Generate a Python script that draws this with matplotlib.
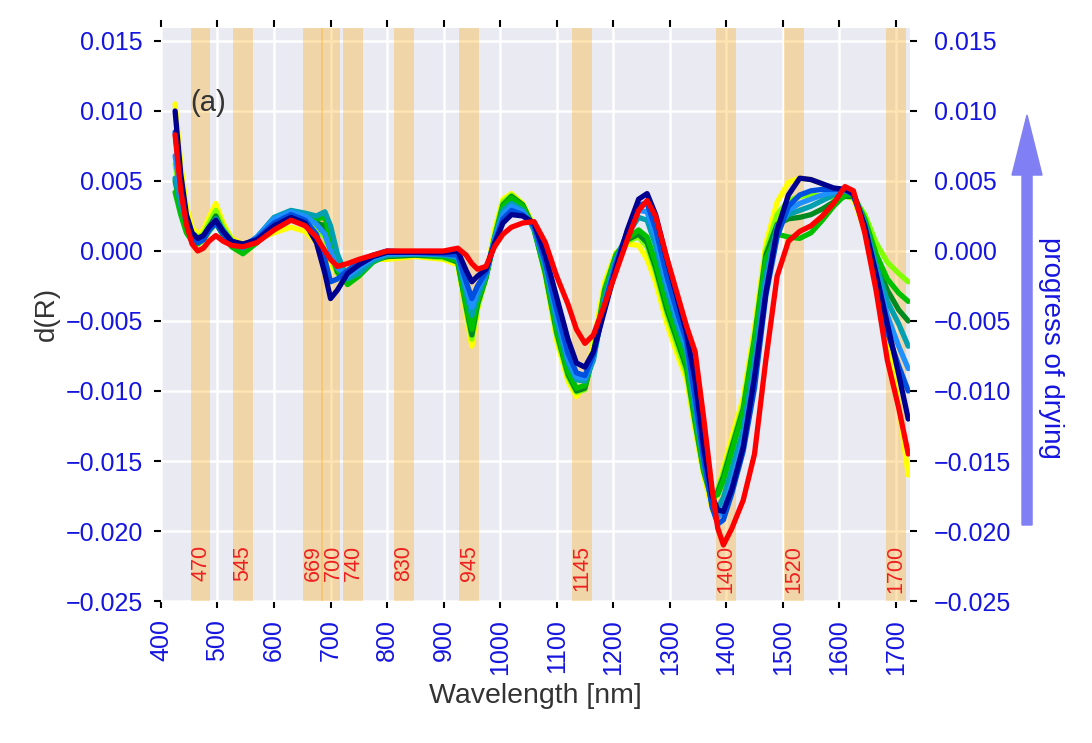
import matplotlib
matplotlib.use("Agg")
import matplotlib.pyplot as plt
import seaborn as sns
from matplotlib.patches import FancyArrow
from matplotlib.ticker import FuncFormatter

# wavelength grid [nm]
wl = [425, 435, 445, 455, 465, 475, 485, 497, 510, 525, 545, 570, 600, 630, 655,
      675, 690, 700, 712, 730, 750, 775, 800, 850, 900, 925, 940, 950, 960, 975,
      990, 1005, 1020, 1040, 1060, 1080, 1100, 1120, 1135, 1150, 1165, 1185, 1205,
      1225, 1245, 1260, 1275, 1295, 1315, 1330, 1345, 1360, 1375, 1385, 1395, 1410,
      1430, 1450, 1470, 1490, 1510, 1530, 1550, 1570, 1590, 1610, 1625, 1645, 1665,
      1685, 1705, 1722]

# d(R) spectra, in units of 1e-3 (wet -> dry)
s_yellow = [10.5, 6.2, 3.2, 1.7, 1.2, 1.5, 2.4, 3.4, 2.0, 0.9, 0.5, 0.8, 1.3, 1.7, 1.4,
            0.6, -0.2, -0.9, -1.6, -1.4, -0.9, -0.6, -0.6, -0.4, -0.6, -1.0, -4.5, -6.8, -4.2, -1.8,
            1.5, 3.7, 4.1, 3.4, 1.8, -1.8, -6.4, -9.3, -10.4, -9.6, -6.5, -2.2, -0.1,
            0.5, 0.4, -0.6, -2.2, -5.2, -7.6, -9.2, -12.8, -16.0, -18.5, -17.2, -15.5, -13.3,
            -10.5, -5.5, 0.5, 3.5, 4.9, 5.2, 5.1, 4.8, 4.3, 4.0, 3.7, 1.5, -2.5,
            -6.5, -11.0, -16.0]
s_lime = [6.2, 3.8, 2.2, 1.3, 1.0, 1.2, 2.0, 2.9, 1.7, 0.8, 0.2, 0.7, 1.8, 2.3, 2.0,
          1.5, 1.0, -0.3, -1.6, -1.8, -1.2, -0.6, -0.4, -0.3, -0.5, -0.8, -4.2, -6.3, -4.0, -1.9,
          1.1, 3.5, 4.0, 3.3, 1.6, -1.7, -6.0, -9.0, -10.1, -9.9, -7.2, -2.6, -0.2,
          0.7, 1.0, 0.3, -1.5, -4.5, -7.0, -8.8, -12.4, -15.8, -17.9, -17.0, -15.8, -13.8,
          -11.0, -6.0, 0.0, 2.6, 3.6, 3.9, 4.0, 3.9, 3.8, 3.9, 3.8, 2.6, 0.6,
          -0.8, -1.6, -2.2]
s_dgreen = [5.0, 3.1, 1.7, 0.9, 0.7, 1.0, 1.7, 2.5, 1.4, 0.5, 0.0, 0.6, 2.0, 2.6, 2.4,
            2.0, 1.8, 0.3, -1.5, -2.2, -1.6, -0.7, -0.4, -0.3, -0.4, -0.8, -4.0, -6.0, -3.8, -1.9,
            0.9, 3.3, 3.9, 3.3, 1.6, -1.6, -5.8, -8.8, -10.0, -9.8, -7.4, -2.8, -0.3,
            0.8, 1.2, 0.6, -1.2, -4.2, -6.6, -8.4, -12.2, -15.7, -17.8, -17.2, -16.1, -14.0,
            -11.3, -6.3, -0.3, 1.9, 2.3, 2.4, 2.6, 3.0, 3.5, 3.9, 3.9, 2.2, -0.8,
            -2.8, -4.2, -5.0]
s_green = [4.2, 2.6, 1.3, 0.7, 0.5, 0.8, 1.4, 2.0, 1.1, 0.3, -0.2, 0.6, 2.2, 2.8, 2.6,
           2.3, 2.4, 0.8, -1.3, -2.4, -1.8, -0.8, -0.3, -0.2, -0.4, -0.7, -3.8, -5.6, -3.6, -1.9,
           0.8, 3.2, 3.8, 3.2, 1.5, -1.5, -5.6, -8.6, -9.8, -9.6, -7.5, -2.9, -0.3,
           0.9, 1.5, 1.0, -0.8, -3.8, -6.3, -8.1, -12.0, -15.6, -17.6, -17.4, -16.4, -14.3,
           -11.5, -6.5, -0.6, 1.2, 1.0, 0.9, 1.3, 2.2, 3.2, 4.0, 4.0, 2.3, -0.2,
           -2.0, -3.0, -3.6]
s_teal = [5.2, 3.3, 2.0, 1.1, 0.8, 1.0, 1.6, 2.3, 1.5, 0.7, 0.2, 1.0, 2.4, 2.9, 2.7,
          2.5, 2.8, 1.8, -0.2, -2.0, -1.6, -0.7, -0.3, -0.2, -0.3, -0.5, -3.0, -4.6, -3.2, -1.7,
          0.9, 2.9, 3.4, 2.9, 1.6, -1.2, -5.0, -8.0, -9.2, -9.3, -7.8, -3.4, -0.6,
          1.2, 2.4, 2.2, 0.4, -2.8, -5.5, -7.2, -11.3, -15.2, -18.0, -18.4, -17.6, -15.6,
          -12.8, -7.8, -1.8, 1.8, 2.6, 2.9, 3.2, 3.6, 4.0, 4.3, 4.1, 2.0, -1.0,
          -3.6, -5.2, -6.8]
s_dodger = [6.8, 4.0, 2.1, 1.0, 0.7, 0.9, 1.5, 2.1, 1.3, 0.6, 0.3, 1.0, 2.3, 2.8, 2.5,
            1.9, 1.2, 0.0, -1.2, -1.8, -1.2, -0.5, -0.2, -0.2, -0.2, -0.4, -2.6, -4.0, -2.8, -1.6,
            0.8, 2.6, 3.2, 2.8, 1.7, -1.0, -4.6, -7.7, -9.0, -9.1, -7.6, -3.6, -0.7,
            1.3, 2.9, 2.8, 1.0, -2.3, -5.0, -6.8, -10.9, -15.0, -18.1, -19.0, -18.5, -16.5,
            -13.5, -8.8, -2.5, 1.4, 2.9, 3.4, 3.7, 4.0, 4.2, 4.4, 4.0, 1.8, -1.5,
            -4.6, -6.8, -8.4]
s_blue = [8.5, 4.8, 2.3, 1.0, 0.6, 0.8, 1.5, 2.0, 1.2, 0.6, 0.4, 0.9, 2.0, 2.6, 2.2,
          1.2, -0.6, -2.2, -2.0, -1.4, -0.8, -0.3, 0.0, -0.1, -0.2, -0.3, -2.2, -3.4, -2.5, -1.5,
          0.6, 2.3, 2.9, 2.6, 1.8, -0.8, -4.2, -7.3, -8.7, -8.9, -7.4, -3.8, -0.9,
          1.4, 3.3, 3.4, 1.6, -1.8, -4.6, -6.5, -10.5, -14.8, -18.3, -19.5, -19.2, -17.3,
          -14.3, -9.8, -3.2, 1.0, 3.2, 4.0, 4.3, 4.4, 4.4, 4.4, 4.0, 1.6, -2.0,
          -5.8, -8.2, -10.0]
s_navy = [10.0, 5.5, 2.6, 1.3, 0.9, 1.1, 1.7, 2.2, 1.4, 0.7, 0.5, 0.8, 1.8, 2.4, 2.0,
          0.6, -1.6, -3.4, -2.8, -1.6, -1.0, -0.4, -0.1, -0.1, -0.1, 0.0, -1.4, -2.2, -1.8, -1.3,
          0.5, 2.0, 2.6, 2.5, 2.0, -0.3, -3.3, -6.3, -8.0, -8.3, -7.2, -4.2, -1.2,
          1.5, 3.7, 4.1, 2.6, -0.6, -3.6, -5.9, -9.2, -14.0, -17.5, -18.5, -18.6, -17.0,
          -14.0, -9.0, -3.0, 1.5, 4.0, 5.2, 5.1, 4.8, 4.5, 4.4, 4.1, 1.8, -1.6,
          -5.2, -8.8, -12.0]
s_red = [8.3, 4.3, 1.9, 0.5, 0.0, 0.2, 0.7, 1.1, 0.7, 0.4, 0.3, 0.6, 1.5, 2.2, 1.8,
         1.0, 0.0, -0.6, -1.1, -0.9, -0.6, -0.3, 0.0, 0.0, 0.0, 0.2, -0.3, -0.9, -1.3, -1.1,
         0.3, 1.2, 1.7, 2.0, 2.1, 0.6, -1.8, -3.8, -5.6, -6.6, -6.0, -3.8, -1.5,
         0.8, 2.9, 3.6, 2.5, -0.5, -3.3, -5.4, -7.2, -11.9, -17.0, -19.8, -21.0, -19.8,
         -17.8, -14.5, -7.8, -1.8, 0.7, 1.4, 1.8, 2.5, 3.4, 4.6, 4.3, 1.3, -2.8,
         -7.8, -11.2, -14.5]

spectra = [s_yellow, s_lime, s_dgreen, s_green, s_teal, s_dodger, s_blue, s_navy, s_red]
colors = ['#FFFF00', '#7FFF00', '#008A20', '#00C000', '#00A0B0', '#1E90FF',
          '#0050E0', '#000090', '#FF0000']

# marked wavelengths
bands = [470, 545, 669, 700, 740, 830, 945, 1145, 1400, 1520, 1700]
band_labels = ['470', '545', '669', '700', '740', '830', '945', '1145', '1400', '1520', '1700']

sns.set_style("darkgrid")
plt.rcParams['font.family'] = ['Liberation Sans', 'DejaVu Sans']
plt.rcParams['grid.linewidth'] = 1.8

tick_blue = '#1515E0'

fig = plt.figure(figsize=(10.92, 7.43), dpi=100)
ax = fig.add_axes([0.1474, 0.1911, 0.6859, 0.7726])

for b in bands:
    ax.axvspan(b - 17.5, b + 17.5, color='orange', alpha=0.3, lw=0)

for s, c in zip(spectra, colors):
    ax.plot(wl, [v * 1e-3 for v in s], color=c, lw=3.8, solid_capstyle='round',
            solid_joinstyle='round')

for b, lab in zip(bands, band_labels):
    # 700 label sits a bit to the right so it doesn't run into 669
    x = b + 5 if lab == '700' else b
    ax.text(x, -0.021, lab, rotation=90, ha='center', va='top', color='#EE2020', fontsize=15.5)

ax.text(452, 0.0106, '(a)', fontsize=21, color='#333333', va='center')

ax.set_xlim(400, 1725)
ax.set_ylim(-0.025, 0.016)
ax.set_xticks(range(400, 1701, 100))
yt = [-0.025, -0.02, -0.015, -0.01, -0.005, 0.0, 0.005, 0.01, 0.015]
ax.set_yticks(yt)
fmt = FuncFormatter(lambda v, p: f"{v:.3f}".replace('-', '\u2212'))
ax.yaxis.set_major_formatter(fmt)
ax.tick_params(axis='x', labelrotation=90, labelsize=18, labelcolor=tick_blue, pad=8,
               direction='out', length=5, width=1.5, color='black', top=True, bottom=True)
ax.tick_params(axis='y', labelsize=18, labelcolor=tick_blue, pad=8,
               direction='out', length=5, width=1.5, color='black', left=True)
ax.set_xlabel('Wavelength [nm]', fontsize=20.5, color='#333333', labelpad=6)
ax.set_ylabel('d(R)', fontsize=20, color='#333333', labelpad=4)

ax2 = ax.twinx()
ax2.set_ylim(ax.get_ylim())
ax2.set_yticks(yt)
ax2.yaxis.set_major_formatter(fmt)
ax2.grid(False)
ax2.tick_params(axis='y', labelsize=18, labelcolor=tick_blue, pad=12,
                direction='out', length=5, width=1.5, color='black', right=True)
for sp in ax2.spines.values():
    sp.set_visible(False)

arrow = FancyArrow(0.9405, 0.2934, 0, 0.5518, width=0.0092, head_width=0.0275,
                   head_length=0.0808, length_includes_head=True,
                   color='#8080F4', transform=fig.transFigure)
fig.patches.append(arrow)
fig.text(0.9625, 0.5316, 'progress of drying', rotation=-90, ha='center', va='center',
         fontsize=20, color=tick_blue)

fig.savefig('out.png', dpi=100)
